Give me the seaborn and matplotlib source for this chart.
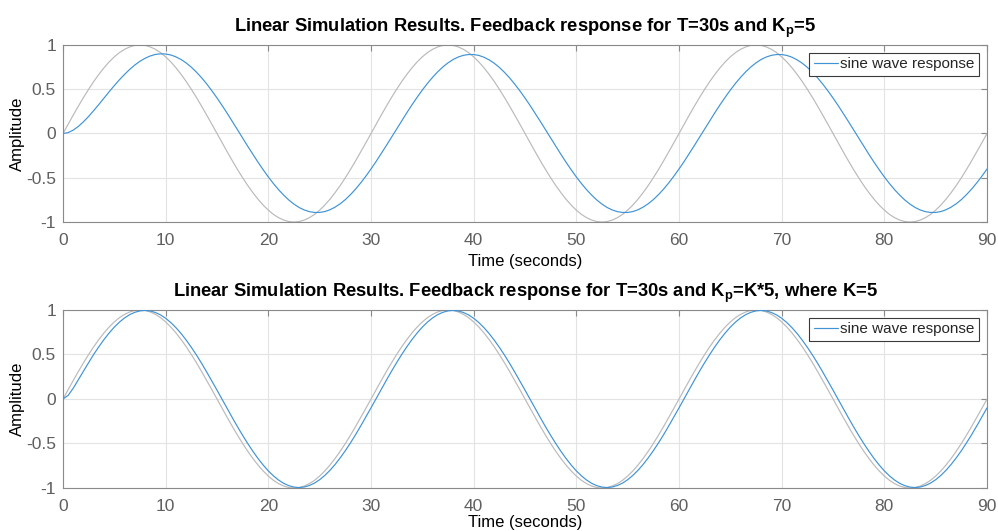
import numpy as np
import pandas as pd
import seaborn as sns
import matplotlib
matplotlib.use("Agg")
import matplotlib.pyplot as plt

# Simulation time grid (seconds), 0.5 s step
time_s = [i * 0.5 for i in range(181)]

# Input sine wave, period T = 30 s, unit amplitude
sine_input = [
    0.000, 0.105, 0.208, 0.309, 0.407, 0.500, 0.588, 0.669, 0.743, 0.809,
    0.866, 0.914, 0.951, 0.978, 0.995, 1.000, 0.995, 0.978, 0.951, 0.914,
    0.866, 0.809, 0.743, 0.669, 0.588, 0.500, 0.407, 0.309, 0.208, 0.105,
    0.000, -0.105, -0.208, -0.309, -0.407, -0.500, -0.588, -0.669, -0.743, -0.809,
    -0.866, -0.914, -0.951, -0.978, -0.995, -1.000, -0.995, -0.978, -0.951, -0.914,
    -0.866, -0.809, -0.743, -0.669, -0.588, -0.500, -0.407, -0.309, -0.208, -0.105,
    0.000, 0.105, 0.208, 0.309, 0.407, 0.500, 0.588, 0.669, 0.743, 0.809,
    0.866, 0.914, 0.951, 0.978, 0.995, 1.000, 0.995, 0.978, 0.951, 0.914,
    0.866, 0.809, 0.743, 0.669, 0.588, 0.500, 0.407, 0.309, 0.208, 0.105,
    0.000, -0.105, -0.208, -0.309, -0.407, -0.500, -0.588, -0.669, -0.743, -0.809,
    -0.866, -0.914, -0.951, -0.978, -0.995, -1.000, -0.995, -0.978, -0.951, -0.914,
    -0.866, -0.809, -0.743, -0.669, -0.588, -0.500, -0.407, -0.309, -0.208, -0.105,
    0.000, 0.105, 0.208, 0.309, 0.407, 0.500, 0.588, 0.669, 0.743, 0.809,
    0.866, 0.914, 0.951, 0.978, 0.995, 1.000, 0.995, 0.978, 0.951, 0.914,
    0.866, 0.809, 0.743, 0.669, 0.588, 0.500, 0.407, 0.309, 0.208, 0.105,
    0.000, -0.105, -0.208, -0.309, -0.407, -0.500, -0.588, -0.669, -0.743, -0.809,
    -0.866, -0.914, -0.951, -0.978, -0.995, -1.000, -0.995, -0.978, -0.951, -0.914,
    -0.866, -0.809, -0.743, -0.669, -0.588, -0.500, -0.407, -0.309, -0.208, -0.105,
    0.000,
]

# Closed-loop output with Kp = 5
response_kp5 = [
    0.000, 0.010, 0.038, 0.080, 0.133, 0.193, 0.260, 0.329, 0.401, 0.472,
    0.541, 0.607, 0.668, 0.724, 0.774, 0.816, 0.850, 0.876, 0.893, 0.900,
    0.898, 0.887, 0.866, 0.836, 0.797, 0.749, 0.693, 0.630, 0.560, 0.483,
    0.402, 0.316, 0.227, 0.135, 0.042, -0.052, -0.145, -0.236, -0.325, -0.410,
    -0.491, -0.566, -0.635, -0.697, -0.752, -0.798, -0.836, -0.864, -0.883, -0.892,
    -0.892, -0.882, -0.862, -0.832, -0.794, -0.747, -0.691, -0.628, -0.558, -0.482,
    -0.401, -0.316, -0.226, -0.135, -0.042, 0.052, 0.145, 0.236, 0.325, 0.410,
    0.491, 0.566, 0.635, 0.697, 0.752, 0.798, 0.836, 0.864, 0.883, 0.892,
    0.892, 0.882, 0.862, 0.832, 0.794, 0.747, 0.691, 0.628, 0.558, 0.482,
    0.401, 0.316, 0.226, 0.135, 0.042, -0.052, -0.145, -0.236, -0.325, -0.410,
    -0.491, -0.566, -0.635, -0.697, -0.752, -0.798, -0.836, -0.864, -0.883, -0.892,
    -0.892, -0.882, -0.862, -0.832, -0.794, -0.747, -0.691, -0.628, -0.558, -0.482,
    -0.401, -0.316, -0.226, -0.135, -0.042, 0.052, 0.145, 0.236, 0.325, 0.410,
    0.491, 0.566, 0.635, 0.697, 0.752, 0.798, 0.836, 0.864, 0.883, 0.892,
    0.892, 0.882, 0.862, 0.832, 0.794, 0.747, 0.691, 0.628, 0.558, 0.482,
    0.401, 0.316, 0.226, 0.135, 0.042, -0.052, -0.145, -0.236, -0.325, -0.410,
    -0.491, -0.566, -0.635, -0.697, -0.752, -0.798, -0.836, -0.864, -0.883, -0.892,
    -0.892, -0.882, -0.862, -0.832, -0.794, -0.747, -0.691, -0.628, -0.558, -0.482,
    -0.401,
]

# Closed-loop output with Kp = K*5, K = 5
response_kp25 = [
    0.000, 0.040, 0.121, 0.216, 0.313, 0.409, 0.502, 0.588, 0.669, 0.742,
    0.808, 0.864, 0.911, 0.948, 0.974, 0.990, 0.995, 0.989, 0.972, 0.945,
    0.907, 0.859, 0.802, 0.736, 0.662, 0.581, 0.494, 0.401, 0.303, 0.202,
    0.100, -0.004, -0.108, -0.211, -0.312, -0.409, -0.501, -0.588, -0.669, -0.742,
    -0.808, -0.864, -0.911, -0.948, -0.974, -0.990, -0.995, -0.989, -0.972, -0.945,
    -0.907, -0.859, -0.802, -0.736, -0.662, -0.581, -0.494, -0.401, -0.303, -0.202,
    -0.100, 0.004, 0.108, 0.211, 0.312, 0.409, 0.501, 0.588, 0.669, 0.742,
    0.808, 0.864, 0.911, 0.948, 0.974, 0.990, 0.995, 0.989, 0.972, 0.945,
    0.907, 0.859, 0.802, 0.736, 0.662, 0.581, 0.494, 0.401, 0.303, 0.202,
    0.100, -0.004, -0.108, -0.211, -0.312, -0.409, -0.501, -0.588, -0.669, -0.742,
    -0.808, -0.864, -0.911, -0.948, -0.974, -0.990, -0.995, -0.989, -0.972, -0.945,
    -0.907, -0.859, -0.802, -0.736, -0.662, -0.581, -0.494, -0.401, -0.303, -0.202,
    -0.100, 0.004, 0.108, 0.211, 0.312, 0.409, 0.501, 0.588, 0.669, 0.742,
    0.808, 0.864, 0.911, 0.948, 0.974, 0.990, 0.995, 0.989, 0.972, 0.945,
    0.907, 0.859, 0.802, 0.736, 0.662, 0.581, 0.494, 0.401, 0.303, 0.202,
    0.100, -0.004, -0.108, -0.211, -0.312, -0.409, -0.501, -0.588, -0.669, -0.742,
    -0.808, -0.864, -0.911, -0.948, -0.974, -0.990, -0.995, -0.989, -0.972, -0.945,
    -0.907, -0.859, -0.802, -0.736, -0.662, -0.581, -0.494, -0.401, -0.303, -0.202,
    -0.100,
]

titles = [
    r"Linear Simulation Results. Feedback response for T=30s and K$_\mathbf{p}$=5",
    r"Linear Simulation Results. Feedback response for T=30s and K$_\mathbf{p}$=K*5, where K=5",
]
x_ticks = [0, 10, 20, 30, 40, 50, 60, 70, 80, 90]
y_ticks = [-1, -0.5, 0, 0.5, 1]
y_tick_labels = ["-1", "-0.5", "0", "0.5", "1"]
legend_label = "sine wave response"

sns.set_theme(style="white")
plt.rcParams["font.family"] = ["Liberation Sans", "DejaVu Sans"]
plt.rcParams["mathtext.fontset"] = "custom"
plt.rcParams["mathtext.rm"] = "Liberation Sans"
plt.rcParams["mathtext.bf"] = "Liberation Sans:bold"

BLUE = "#3f93d6"
GREY = "#bababa"
AXIS_GREY = "#8a8a8a"
TICK_GREY = "#5f5f5f"

fig = plt.figure(figsize=(9.98, 5.31), dpi=100)
ax_top = fig.add_axes([0.0631, 0.5819, 0.9259, 0.3334])
ax_bot = fig.add_axes([0.0631, 0.0810, 0.9259, 0.3352])

frames = [
    pd.DataFrame({"t": time_s, "u": sine_input, "y": response_kp5}),
    pd.DataFrame({"t": time_s, "u": sine_input, "y": response_kp25}),
]

for ax, df, title, xpad in zip([ax_top, ax_bot], frames, titles, [4, 0.5]):
    sns.lineplot(data=df, x="t", y="u", ax=ax, color=GREY, linewidth=0.85,
                 legend=False, zorder=2)
    sns.lineplot(data=df, x="t", y="y", ax=ax, color=BLUE, linewidth=0.85,
                 label=legend_label, zorder=3)

    ax.set_xlim(0, 90)
    ax.set_ylim(-1, 1)
    ax.set_xticks(x_ticks)
    ax.set_yticks(y_ticks)
    ax.set_yticklabels(y_tick_labels)
    ax.grid(True, color="#e3e3e3", linewidth=0.8)
    ax.set_axisbelow(True)
    for sp in ax.spines.values():
        sp.set_visible(True)
        sp.set_color(AXIS_GREY)
        sp.set_linewidth(0.8)
    ax.tick_params(axis="both", which="major", direction="in", length=4,
                   width=0.8, color=AXIS_GREY, labelcolor=TICK_GREY,
                   labelsize=12.5, top=True, right=True)
    ax.tick_params(axis="x", pad=8)
    ax.tick_params(axis="y", pad=5)
    ax.set_xlabel("Time (seconds)", fontsize=12, color="black", labelpad=xpad)
    ax.set_ylabel("Amplitude", fontsize=12, color="black", labelpad=1)
    ax.set_title(title, fontsize=13.2, fontweight="bold", color="black", pad=9)

    leg = ax.legend(loc="upper right", fontsize=11, frameon=True, fancybox=False,
                    borderpad=0.3, handlelength=1.6, handletextpad=0.15,
                    borderaxespad=0.5)
    leg.get_frame().set_edgecolor("#3a3a3a")
    leg.get_frame().set_linewidth(0.8)
    leg.get_frame().set_alpha(1.0)

fig.savefig("out.png", dpi=100, facecolor="white")
